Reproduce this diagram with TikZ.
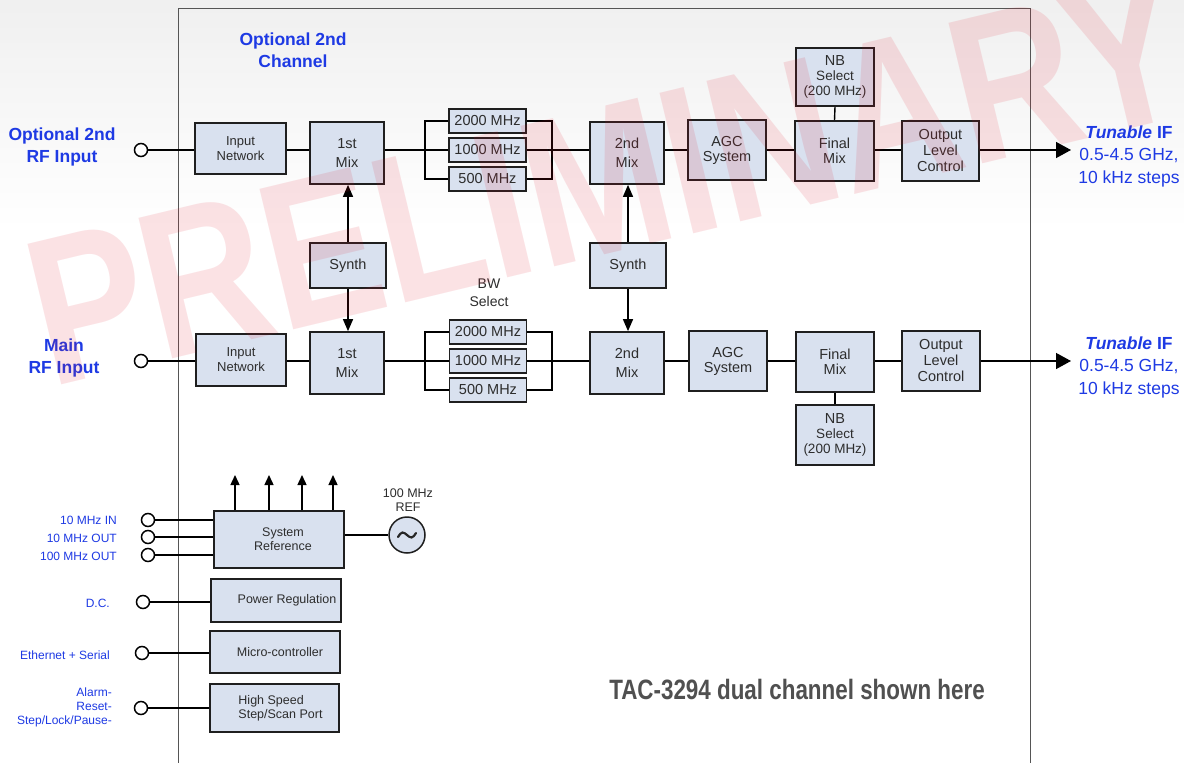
\documentclass[tikz,border=0pt]{standalone}
\usepackage{fontspec}
\usepackage{graphicx}
\setmainfont{Liberation Sans}
\usetikzlibrary{arrows.meta,calc}
\definecolor{boxfill}{RGB}{217,225,239}
\definecolor{lbl}{RGB}{30,58,228}
\definecolor{txt}{RGB}{45,45,45}
\definecolor{framec}{RGB}{85,85,85}
\definecolor{tacc}{RGB}{80,80,80}
\definecolor{wmc}{RGB}{225,20,40}
\begin{document}
\begin{tikzpicture}[x=1pt,y=-1pt,
  sz/.style 2 args={minimum width=#1, minimum height=#2},
  blk/.style={draw=black!88, line width=1.7pt, fill=boxfill, inner sep=0pt, align=center, text=txt, font=\fontsize{14.5}{15}\selectfont},
  mixb/.style={blk, sz={74pt}{62pt}, font=\fontsize{14.5}{19}\selectfont},
  flt/.style={blk, sz={77pt}{24pt}},
  wire/.style={line width=1.4pt, black},
  arr/.style={wire, -{Triangle[length=12pt,width=10pt]}},
  bigarr/.style={wire, -{Triangle[length=15pt,width=16pt]}},
  port/.style={circle, draw=black, line width=1.5pt, fill=white, minimum size=13pt, inner sep=0pt},
  lab/.style={text=lbl, inner sep=0pt},
  biglab/.style={lab, align=center, font=\bfseries\fontsize{17.5}{22}\selectfont},
  iflab/.style={lab, align=center, font=\fontsize{17.5}{22.5}\selectfont},
  smlab/.style={lab, anchor=east, align=right, font=\fontsize{12}{14}\selectfont},
  sbox/.style={blk, font=\fontsize{12.5}{14}\selectfont}
]
\useasboundingbox (0,0) rectangle (1184,763);
\fill[white] (0,0) rectangle (1184,763);
\shade[top color=black!6, bottom color=white] (0,0) rectangle (1184,230);
% frame
\draw[framec, line width=1pt] (178.5,763) -- (178.5,8) -- (1030,8) -- (1030,763);

% row reference coordinates
\coordinate (rA) at (0,150);
\coordinate (rB) at (0,361);

% ---------- top (optional 2nd) channel ----------
\node[port] (pA) at (141,150) {};
\node[blk, sz={91pt}{51pt}, font=\fontsize{13}{15}\selectfont] (inA) at (240.5,148.5) {Input\\Network};
\node[mixb] (m1A) at (347,153) {1st\\Mix};
\node[flt] (fA1) at (487.5,121) {2000 MHz};
\node[flt] (fA2) at (487.5,150) {1000 MHz};
\node[flt] (fA3) at (487.5,179) {500 MHz};
\coordinate (lvA) at (425,150);
\coordinate (rvA) at (552,150);
\node[mixb] (m2A) at (627,153) {2nd\\Mix};
\node[blk, sz={78pt}{60pt}] (agcA) at (727,150) {AGC\\System};
\node[blk, sz={79pt}{60pt}] (finA) at (834.5,151) {Final\\Mix};
\node[blk, sz={78pt}{58pt}, font=\fontsize{13.5}{15}\selectfont] (nbA) at (835,77) {{\fontsize{14.5}{15}\selectfont NB}\\Select\\(200 MHz)};
\node[blk, sz={77pt}{60pt}, font=\fontsize{14.5}{16}\selectfont] (outA) at (940.5,151) {Output\\Level\\Control};
\coordinate (tA) at (1071,150);

% ---------- synths ----------
\node[blk, sz={76pt}{45pt}] (sA) at (348,265.5) {Synth};
\node[blk, sz={76pt}{45pt}] (sB) at (628,265.5) {Synth};

% ---------- main channel ----------
\node[port] (pB) at (141,361) {};
\node[blk, sz={90pt}{52pt}, font=\fontsize{13}{15}\selectfont] (inB) at (241,360) {Input\\Network};
\node[mixb] (m1B) at (347,363) {1st\\Mix};
\node[text=txt, align=center, inner sep=0pt, font=\fontsize{14}{18}\selectfont] (bw) at (489,293) {BW\\Select};
\node[flt] (fB1) at (488,332) {2000 MHz};
\node[flt] (fB2) at (488,361) {1000 MHz};
\node[flt] (fB3) at (488,390) {500 MHz};
\coordinate (lvB) at (425,361);
\coordinate (rvB) at (552,361);
\node[mixb] (m2B) at (627,363) {2nd\\Mix};
\node[blk, sz={78pt}{60pt}] (agcB) at (728,361) {AGC\\System};
\node[blk, sz={78pt}{60pt}] (finB) at (835,362) {Final\\Mix};
\node[blk, sz={78pt}{60pt}, font=\fontsize{13.5}{15}\selectfont] (nbB) at (835,435) {{\fontsize{14.5}{15}\selectfont NB}\\Select\\(200 MHz)};
\node[blk, sz={78pt}{60pt}, font=\fontsize{14.5}{16}\selectfont] (outB) at (941,361) {Output\\Level\\Control};
\coordinate (tB) at (1071,361);

% ---------- connectors top ----------
\draw[wire] (pA.east) -- (inA.west |- rA);
\draw[wire] (inA.east |- rA) -- (m1A.west |- rA);
\draw[wire] (m1A.east |- rA) -- (fA2.west);
\draw[wire] (fA1.west) -- (fA1.west -| lvA) |- (fA3.west);
\draw[wire] (fA1.east) -- (fA1.east -| rvA) |- (fA3.east);
\draw[wire] (fA2.east) -- (m2A.west |- rA);
\draw[wire] (m2A.east |- rA) -- (agcA.west |- rA);
\draw[wire] (agcA.east |- rA) -- (finA.west |- rA);
\draw[wire] (finA.east |- rA) -- (outA.west |- rA);
\draw[wire] (nbA.south) -- (finA.north);
\draw[bigarr] (outA.east |- rA) -- (tA);

% ---------- connectors main ----------
\draw[wire] (pB.east) -- (inB.west |- rB);
\draw[wire] (inB.east |- rB) -- (m1B.west |- rB);
\draw[wire] (m1B.east |- rB) -- (fB2.west);
\draw[wire] (fB1.west) -- (fB1.west -| lvB) |- (fB3.west);
\draw[wire] (fB1.east) -- (fB1.east -| rvB) |- (fB3.east);
\draw[wire] (fB2.east) -- (m2B.west |- rB);
\draw[wire] (m2B.east |- rB) -- (agcB.west |- rB);
\draw[wire] (agcB.east |- rB) -- (finB.west |- rB);
\draw[wire] (finB.east |- rB) -- (outB.west |- rB);
\draw[wire] (finB.south) -- (nbB.north);
\draw[bigarr] (outB.east |- rB) -- (tB);

% ---------- synth arrows ----------
\draw[arr] (sA.north) -- (sA.north |- m1A.south);
\draw[arr] (sA.south) -- (sA.south |- m1B.north);
\draw[arr] (sB.north) -- (sB.north |- m2A.south);
\draw[arr] (sB.south) -- (sB.south |- m2B.north);

% ---------- labels ----------
\node[biglab] (l2ch) at (293,50) {Optional 2nd\\Channel};
\node[biglab] (lin2) at (62,147) {Optional 2nd\\RF Input};
\node[biglab] (linm) at (64,358) {Main\\RF Input};
\node[iflab] (ifA) at (1129,156) {\textbf{\textit{Tunable} IF}\\0.5-4.5 GHz,\\10 kHz steps};
\node[iflab] (ifB) at (1129,367) {\textbf{\textit{Tunable} IF}\\0.5-4.5 GHz,\\10 kHz steps};

% ---------- system section ----------
\node[sbox, sz={130pt}{57pt}] (sys) at (279,539.5) {\hspace*{8pt}System\\\hspace*{8pt}Reference};
\coordinate (u1) at (235,475);
\coordinate (u2) at (269,475);
\coordinate (u3) at (302,475);
\coordinate (u4) at (333,475);
\foreach \u in {u1,u2,u3,u4}
  \draw[wire, -{Triangle[length=10pt,width=9pt]}] (sys.north -| \u) -- (\u);
\node[port] (c1) at (148,520) {};
\node[port] (c2) at (148,537) {};
\node[port] (c3) at (148,555) {};
\draw[wire] (c1.east) -- (sys.west |- c1);
\draw[wire] (c2.east) -- (sys.west |- c2);
\draw[wire] (c3.east) -- (sys.west |- c3);
\node[smlab] (t1) at (117,520) {10 MHz IN};
\node[smlab] (t2) at (117,538) {10 MHz OUT};
\node[smlab] (t3) at (117,556) {100 MHz OUT};
\node[circle, draw=black!88, line width=1.5pt, fill=boxfill, minimum size=36pt, inner sep=0pt] (osc) at (407,535) {};
\draw[line width=2.2pt, black!85, line cap=round] ($(osc)+(-9,2)$) sin ($(osc)+(-4.5,-2.5)$) cos ($(osc)+(0,0)$) sin ($(osc)+(4.5,2.5)$) cos ($(osc)+(9,-2)$);
\draw[wire] (sys.east |- osc) -- (osc.west);
\node[text=txt, align=center, inner sep=0pt, font=\fontsize{12.5}{14}\selectfont] (reft) at (408,500) {100 MHz\\REF};

\node[sbox, sz={130pt}{43pt}] (pwr) at (276,600.5) {\hspace*{22pt}Power Regulation};
\node[port] (c4) at (143,602) {};
\draw[wire] (c4.east) -- (pwr.west |- c4);
\node[smlab] (t4) at (110,603) {D.C.};

\node[sbox, sz={130pt}{42pt}] (mcu) at (275,652) {\hspace*{10pt}Micro-controller};
\node[port] (c5) at (142,653) {};
\draw[wire] (c5.east) -- (mcu.west |- c5);
\node[smlab] (t5) at (110,655) {Ethernet + Serial};

\node[sbox, sz={129pt}{48pt}, align=left] (hs) at (274.5,708) {\hspace*{12pt}High Speed\\\hspace*{12pt}Step/Scan Port};
\node[port] (c6) at (141,708) {};
\draw[wire] (c6.east) -- (hs.west |- c6);
\node[smlab] (t6) at (112,707) {Alarm-\\Reset-\\Step/Lock/Pause-};

\node[text=tacc, inner sep=0pt, font=\bfseries\fontsize{28}{30}\selectfont] (tac) at (797,690) {\scalebox{0.8}[1]{TAC-3294 dual channel shown here}};

% ---------- watermark ----------
\node[text=wmc, text opacity=0.12, inner sep=0pt, anchor=base west, rotate=13.5, font=\bfseries\fontsize{210}{210}\selectfont] (wm) at (50,388) {\scalebox{0.82}[1]{PRELIMINARY}};
\end{tikzpicture}
\end{document}
